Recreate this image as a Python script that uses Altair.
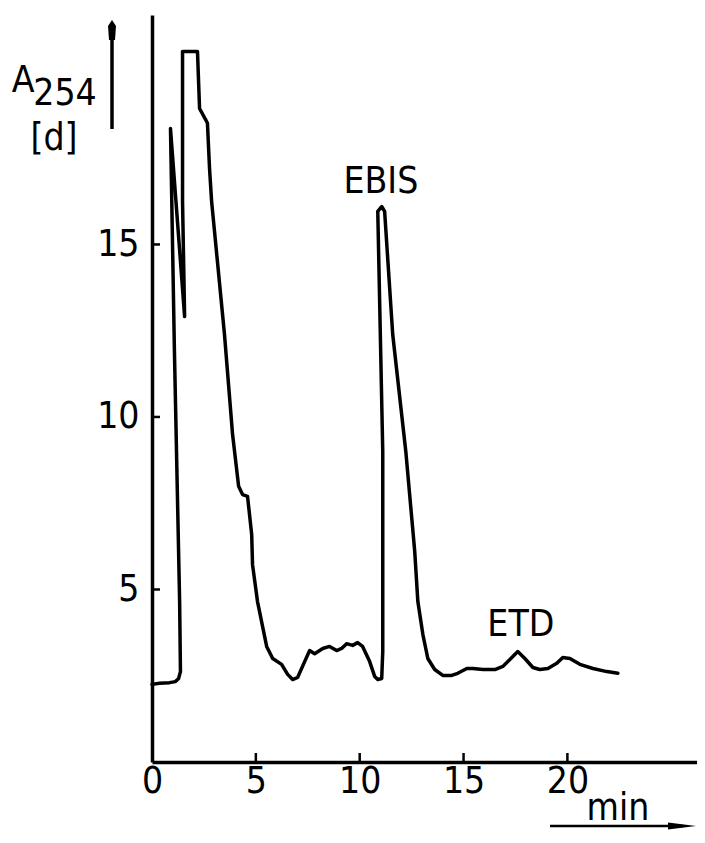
import altair as alt
import pandas as pd

# Chromatogram trace (time in min, absorbance A254)
time_min = [0.00, 0.36, 0.84, 1.13, 1.28, 1.37, 1.33, 1.08, 0.89, 1.57, 1.47, 1.47,
            2.19, 2.29, 2.58, 2.67, 2.77, 2.87, 3.49, 3.88, 4.07, 4.17, 4.36, 4.60,
            4.80, 4.84, 5.08, 5.52, 5.81, 6.24, 6.53, 6.77, 7.01, 7.35, 7.59, 7.83,
            8.22, 8.55, 8.89, 9.13, 9.37, 9.66, 9.90, 10.14, 10.48, 10.72, 10.87, 11.06,
            11.11, 11.11, 10.87, 11.06, 11.20, 11.59, 12.22, 12.65, 12.80, 13.04, 13.28,
            13.61, 14.00, 14.43, 14.72, 15.16, 15.45, 15.93, 16.51, 16.89, 17.23, 17.61,
            17.95, 18.34, 18.67, 19.06, 19.49, 19.78, 20.12, 20.60, 21.23, 21.90, 22.43]
absorbance = [2.25, 2.28, 2.30, 2.33, 2.42, 2.62, 4.65, 11.90, 18.36, 12.91, 16.25, 20.59,
              20.59, 18.94, 18.62, 18.51, 17.20, 16.25, 12.39, 9.49, 8.51, 7.99, 7.75, 7.70,
              6.59, 5.72, 4.65, 3.35, 3.00, 2.83, 2.54, 2.39, 2.45, 2.91, 3.23, 3.14,
              3.29, 3.35, 3.23, 3.29, 3.43, 3.38, 3.46, 3.35, 2.91, 2.48, 2.39, 2.42,
              3.20, 9.00, 15.96, 16.10, 15.96, 12.39, 9.00, 6.10, 4.65, 3.70, 3.00,
              2.68, 2.51, 2.51, 2.57, 2.71, 2.71, 2.68, 2.68, 2.77, 2.97, 3.20,
              3.00, 2.74, 2.68, 2.71, 2.86, 3.03, 3.00, 2.83, 2.71, 2.62, 2.57]

x_ticks = [0, 5, 10, 15, 20]
y_ticks = [5, 10, 15]

peak_labels = ["EBIS", "ETD"]
peak_label_time = [11.02, 17.76]
peak_label_value = [16.5, 3.64]

FONT = "Liberation Sans Narrow, DejaVu Sans Condensed, Liberation Sans, sans-serif"
FS = 37
W, H = 545, 747

xs = alt.Scale(domain=[0, 26.24], nice=False, zero=False)
ys = alt.Scale(domain=[0, 21.65], nice=False, zero=False)

df = pd.DataFrame({"t": time_min, "v": absorbance, "i": list(range(len(time_min)))})

line = alt.Chart(df).mark_line(color="black", strokeWidth=3.5, strokeJoin="round",
                               strokeCap="round", clip=False).encode(
    x=alt.X("t:Q", scale=xs, axis=alt.Axis(
        values=x_ticks, tickSize=0, labelPadding=1, labelFontSize=FS, labelFont=FONT,
        labelColor="black", domainColor="black", domainWidth=3.5, grid=False,
        title=None, labelFlush=False, labelOverlap=False, format="d")),
    y=alt.Y("v:Q", scale=ys, axis=alt.Axis(
        values=y_ticks, tickSize=0, labelPadding=13, labelFontSize=FS, labelFont=FONT,
        labelColor="black", domainColor="black", domainWidth=3.5, grid=False,
        title=None, labelOverlap=False, format="d")),
    order="i:Q",
)

xtick = alt.Chart(pd.DataFrame({"t": x_ticks[1:]})).mark_rule(
    color="black", strokeWidth=2.5).encode(
    x=alt.X("t:Q", scale=xs), y=alt.value(H), y2=alt.value(H - 9))

ytick = alt.Chart(pd.DataFrame({"v": y_ticks})).mark_rule(
    color="black", strokeWidth=2.5).encode(
    y=alt.Y("v:Q", scale=ys), x=alt.value(0), x2=alt.value(8))

peaks = alt.Chart(pd.DataFrame({"lab": peak_labels, "t": peak_label_time,
                                "v": peak_label_value})).mark_text(
    font=FONT, fontSize=FS, color="black", align="center", baseline="alphabetic").encode(
    x=alt.X("t:Q", scale=xs), y=alt.Y("v:Q", scale=ys), text="lab:N")

def txt(s, x, y, size=FS):
    return alt.Chart(pd.DataFrame({"s": [s]})).mark_text(
        font=FONT, fontSize=size, color="black", align="center",
        baseline="alphabetic").encode(x=alt.value(x), y=alt.value(y), text="s:N")

lab_A = txt("A", -129, 77)
lab_254 = txt("254", -87, 90)
lab_d = txt("[d]", -98, 135)
lab_min = txt("min", 466, 805)

arrow_up_line = alt.Chart(pd.DataFrame({"a": [0]})).mark_rule(
    color="black", strokeWidth=3.5).encode(
    x=alt.value(-40), y=alt.value(22), y2=alt.value(114))
arrow_up_head = alt.Chart(pd.DataFrame({"a": [0]})).mark_point(
    shape="M 0 -1 L 0.4 -0.4 L 0.3 1 L -0.3 1 L -0.4 -0.4 Z", filled=True,
    color="black", opacity=1, size=400).encode(x=alt.value(-40), y=alt.value(15))

arrow_r_line = alt.Chart(pd.DataFrame({"a": [0]})).mark_rule(
    color="black", strokeWidth=2.5).encode(
    x=alt.value(398), x2=alt.value(W - 14), y=alt.value(811))
arrow_r_head = alt.Chart(pd.DataFrame({"a": [0]})).mark_point(
    shape="M -1 -0.25 L 1 0 L -1 0.25 Z", filled=True, color="black", opacity=1,
    size=784).encode(x=alt.value(W - 15), y=alt.value(811))

chart = alt.layer(
    line, xtick, ytick, peaks, lab_A, lab_254, lab_d, lab_min,
    arrow_up_line, arrow_up_head, arrow_r_line, arrow_r_head,
).properties(
    width=W, height=H,
    autosize=alt.AutoSizeParams(type="none"),
    padding={"left": 144, "top": 7, "right": 0, "bottom": 69},
    background="white",
).configure_view(stroke=None)

chart.save("out.html", embed_options={"renderer": "svg", "actions": False})
